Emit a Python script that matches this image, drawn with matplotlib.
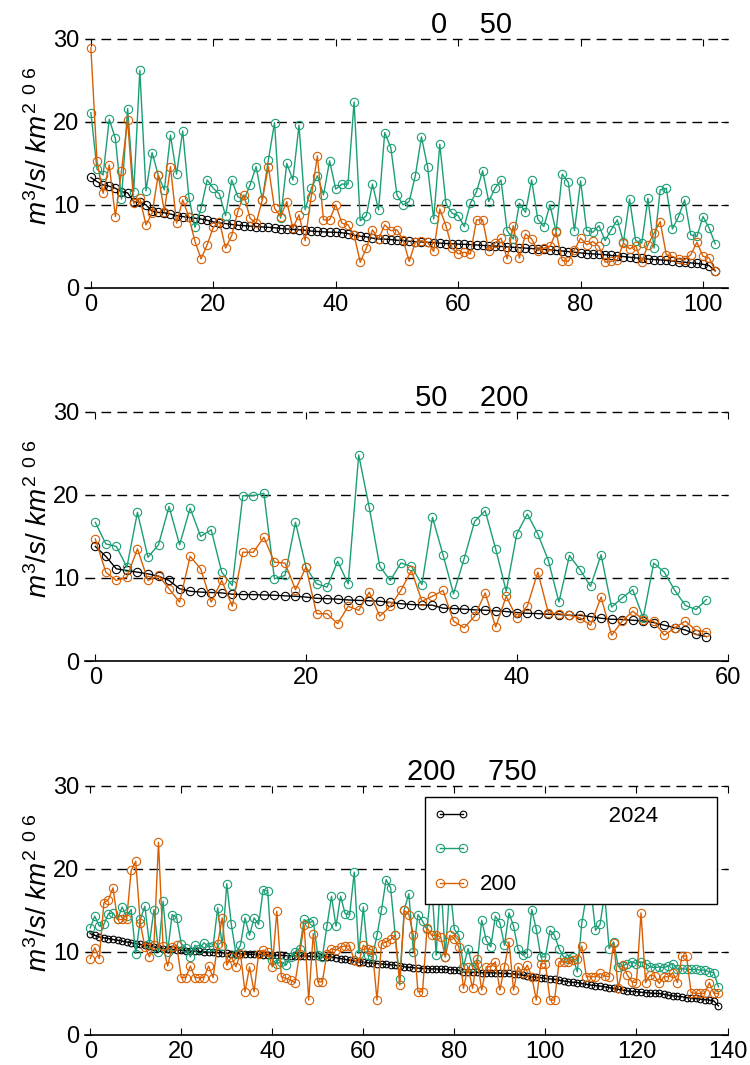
import matplotlib
matplotlib.use('Agg')
import matplotlib.pyplot as plt

plt.rcParams['font.family'] = ['Liberation Sans', 'DejaVu Sans']
plt.rcParams['mathtext.fontset'] = 'custom'
plt.rcParams['mathtext.rm'] = 'Liberation Sans'
plt.rcParams['mathtext.it'] = 'Liberation Sans:italic'

# texts (some glyphs of the original titles/labels are blank)
titles = ['0    50', '50    200', '200    750']
ylabel_txt = r'$m^3/s/\ km^2\ ^{0\ 6}$'
legend_labels = ['                     2024', '', '200']

# panel 1: 0 - 50
black1 = [13.3, 12.8, 12.4, 12.25, 12.0, 11.6, 11.45, 10.4, 10.3, 10.0,
          9.25, 9.1, 9.05, 8.9, 8.7, 8.6, 8.5, 8.4, 8.3, 8.15,
          7.95, 7.85, 7.75, 7.65, 7.55, 7.5, 7.45, 7.4, 7.35, 7.3,
          7.25, 7.15, 7.1, 7.05, 7.0, 6.95, 6.85, 6.8, 6.75, 6.72,
          6.7, 6.65, 6.55, 6.35, 6.22, 6.15, 6.0, 5.9, 5.88, 5.82,
          5.75, 5.7, 5.62, 5.58, 5.54, 5.5, 5.45, 5.4, 5.35, 5.32,
          5.28, 5.25, 5.22, 5.18, 5.12, 5.08, 5.05, 5.0, 4.95, 4.9,
          4.85, 4.8, 4.75, 4.7, 4.65, 4.58, 4.52, 4.45, 4.38, 4.3,
          4.22, 4.15, 4.1, 4.05, 4.0, 3.92, 3.85, 3.78, 3.7, 3.62,
          3.55, 3.48, 3.42, 3.38, 3.32, 3.25, 3.18, 3.1, 3.02, 2.95,
          2.85, 2.7, 2.05]
green1 = [21.1, 14.3, 13.6, 20.3, 18.0, 10.7, 21.6, 11.6, 26.2, 11.7,
          16.3, 13.6, 11.8, 18.4, 13.7, 18.9, 11.0, 7.3, 9.6, 13.0,
          12.0, 11.3, 8.7, 13.0, 11.0, 10.6, 12.4, 14.6, 10.6, 15.4,
          19.9, 8.4, 15.0, 13.0, 19.6, 9.4, 12.0, 13.5, 11.2, 15.3,
          11.9, 12.5, 12.5, 22.4, 8.1, 8.7, 12.5, 9.4, 18.7, 16.9,
          11.2, 10.0, 10.4, 13.5, 18.2, 14.6, 8.3, 17.3, 10.2, 9.0,
          8.7, 7.4, 10.2, 11.6, 14.1, 10.4, 12.0, 13.0, 6.9, 5.9,
          10.2, 9.1, 13.0, 8.3, 7.4, 10.0, 6.8, 13.7, 12.7, 6.9,
          12.9, 6.9, 6.7, 7.5, 5.7, 7.0, 8.2, 5.5, 10.7, 5.7,
          5.4, 10.8, 4.8, 11.8, 12.0, 7.1, 8.6, 10.6, 6.4, 6.2,
          8.6, 7.2, 5.3]
orange1 = [28.9, 15.3, 11.4, 14.8, 8.6, 14.1, 20.2, 10.2, 10.8, 7.6,
           9.0, 13.6, 9.2, 14.6, 7.8, 10.6, 8.6, 5.6, 3.5, 5.2,
           7.3, 8.0, 4.8, 6.3, 9.2, 11.2, 8.4, 7.8, 10.6, 14.6,
           9.6, 8.6, 10.4, 7.2, 8.8, 5.7, 11.0, 15.9, 8.2, 8.2,
           10.0, 7.8, 7.6, 6.4, 3.1, 4.8, 7.0, 5.9, 7.6, 6.9,
           7.0, 5.8, 3.2, 5.5, 5.7, 5.5, 4.4, 9.5, 7.5, 4.8,
           4.1, 4.3, 4.1, 8.2, 8.2, 4.5, 5.4, 6.0, 3.5, 7.5,
           3.6, 6.5, 5.9, 4.5, 4.8, 5.0, 6.7, 3.3, 3.2, 4.6,
           6.0, 5.2, 5.6, 5.0, 3.1, 3.2, 3.4, 5.4, 4.7, 5.1,
           3.1, 5.2, 6.6, 8.0, 4.0, 3.8, 3.5, 3.4, 4.0, 5.5,
           3.8, 3.6, 2.1]

# panel 2: 50 - 200
black2 = [13.8, 12.6, 11.1, 10.9, 10.7, 10.5, 10.2, 9.7, 8.7, 8.4,
          8.3, 8.25, 8.2, 8.05, 8.0, 8.0, 7.95, 7.92, 7.85, 7.8,
          7.7, 7.55, 7.5, 7.45, 7.35, 7.3, 7.25, 7.2, 7.05, 6.9,
          6.8, 6.76, 6.72, 6.36, 6.32, 6.24, 6.16, 6.12, 6.04, 5.96,
          5.84, 5.75, 5.71, 5.63, 5.6, 5.51, 5.5, 5.35, 5.15, 5.03,
          5.0, 4.91, 4.83, 4.63, 4.31, 4.02, 3.74, 3.22, 2.94]
green2 = [16.7, 14.1, 13.8, 11.3, 17.9, 12.5, 14.0, 18.6, 14.0, 18.4,
          15.0, 15.8, 10.7, 9.1, 19.9, 19.9, 20.2, 9.9, 10.3, 16.7,
          11.3, 9.3, 8.9, 12.0, 9.3, 24.8, 18.5, 11.4, 9.7, 11.8,
          11.4, 9.2, 17.3, 12.8, 8.1, 12.3, 16.8, 18.1, 13.5, 8.4,
          15.3, 17.7, 15.3, 12.1, 7.1, 12.7, 11.0, 9.0, 12.8, 6.5,
          7.6, 8.6, 5.2, 11.8, 10.7, 8.5, 6.7, 6.2, 7.4]
orange2 = [14.7, 10.7, 9.7, 10.1, 13.5, 9.7, 10.3, 8.7, 7.1, 12.6,
           11.1, 7.1, 9.7, 6.6, 13.1, 13.1, 14.9, 11.9, 11.8, 8.6,
           11.3, 5.7, 5.7, 4.5, 6.6, 6.1, 8.3, 5.4, 6.6, 8.5,
           10.9, 7.2, 7.8, 8.5, 4.8, 4.0, 5.4, 8.2, 4.1, 7.8,
           5.2, 6.6, 10.7, 5.8, 5.7, 5.5, 5.2, 4.3, 7.7, 3.1,
           4.8, 6.0, 5.0, 4.8, 3.1, 4.0, 4.8, 3.7, 3.5]

# panel 3: 200 - 750
black3 = [12.2, 12.0, 11.8, 11.7, 11.6, 11.5, 11.4, 11.3, 11.2, 11.1,
          11.0, 10.9, 10.8, 10.7, 10.6, 10.5, 10.4, 10.35, 10.3, 10.25,
          10.2, 10.15, 10.1, 10.1, 10.05, 10.0, 10.0, 9.95, 9.9, 9.9,
          9.85, 9.8, 9.8, 9.75, 9.75, 9.7, 9.7, 9.7, 9.65, 9.65,
          9.6, 9.6, 9.6, 9.55, 9.55, 9.5, 9.5, 9.5, 9.5, 9.45,
          9.45, 9.4, 9.4, 9.4, 9.3, 9.2, 9.1, 9.0, 8.9, 8.8,
          8.75, 8.7, 8.65, 8.6, 8.55, 8.5, 8.45, 8.4, 8.3, 8.2,
          8.15, 8.1, 8.05, 8.0, 8.0, 7.95, 7.95, 7.9, 7.9, 7.85,
          7.85, 7.8, 7.6, 7.6, 7.55, 7.55, 7.5, 7.5, 7.5, 7.45,
          7.45, 7.4, 7.4, 7.35, 7.3, 7.2, 7.1, 7.0, 6.95, 6.9,
          6.8, 6.75, 6.7, 6.6, 6.5, 6.4, 6.35, 6.3, 6.2, 6.1,
          6.0, 5.95, 5.9, 5.8, 5.7, 5.6, 5.5, 5.4, 5.3, 5.25,
          5.2, 5.15, 5.1, 5.05, 5.0, 5.0, 4.9, 4.8, 4.7, 4.65,
          4.6, 4.5, 4.45, 4.4, 4.3, 4.25, 4.2, 4.1, 3.5]
green3 = [12.9, 14.3, 13.1, 13.3, 14.6, 14.7, 13.9, 15.4, 14.3, 15.1,
          9.8, 13.9, 15.5, 11.0, 15.1, 10.0, 16.1, 10.0, 14.5, 14.1,
          11.0, 10.5, 9.4, 10.8, 10.4, 11.1, 10.6, 10.7, 15.3, 10.7,
          18.2, 13.3, 9.8, 10.8, 14.1, 12.0, 14.1, 13.3, 17.5, 17.3,
          9.0, 8.6, 8.8, 8.4, 9.4, 10.0, 10.4, 13.9, 13.5, 13.7,
          9.6, 9.4, 13.1, 16.7, 13.1, 16.7, 14.6, 14.5, 19.6, 9.8,
          15.4, 9.6, 9.4, 12.0, 15.1, 18.7, 17.7, 12.0, 6.7, 15.1,
          17.0, 10.0, 14.5, 13.7, 12.7, 18.5, 9.6, 19.0, 9.4, 18.0,
          12.7, 12.0, 8.2, 10.4, 8.2, 8.6, 13.8, 11.4, 10.6, 14.3,
          13.5, 10.8, 14.7, 13.1, 10.3, 9.6, 9.9, 15.1, 12.7, 9.4,
          9.4, 12.6, 12.0, 10.4, 9.4, 9.2, 9.4, 7.6, 13.5, 16.8,
          17.5, 12.6, 13.3, 17.0, 10.4, 11.2, 8.2, 8.3, 8.6, 8.8,
          8.6, 8.8, 8.6, 8.2, 8.1, 8.2, 8.1, 8.3, 8.6, 7.9,
          8.0, 7.9, 7.9, 7.9, 7.8, 7.8, 7.6, 7.5, 5.8]
orange3 = [9.2, 10.5, 9.2, 15.9, 16.3, 17.7, 13.9, 13.9, 13.9, 19.8,
           20.9, 13.5, 10.6, 9.4, 10.8, 23.2, 10.7, 8.3, 10.6, 10.8,
           6.9, 6.9, 8.3, 6.9, 6.9, 6.9, 8.3, 6.9, 11.0, 14.1,
           8.4, 9.4, 8.2, 9.8, 5.2, 8.2, 5.2, 9.8, 10.2, 10.0,
           8.2, 14.9, 7.0, 6.8, 6.6, 6.3, 9.8, 13.2, 4.2, 12.2,
           6.4, 6.4, 9.8, 10.4, 10.2, 10.6, 10.7, 10.7, 9.0, 8.8,
           10.8, 10.4, 10.2, 4.2, 11.0, 11.2, 11.5, 12.0, 6.0, 15.0,
           14.5, 12.0, 5.2, 5.2, 12.9, 12.0, 12.0, 11.8, 9.4, 12.0,
           11.6, 10.6, 5.6, 8.2, 5.6, 9.2, 5.4, 8.2, 8.2, 8.8,
           5.4, 8.2, 11.2, 5.4, 8.2, 7.4, 8.4, 7.0, 4.2, 8.6,
           8.6, 4.2, 4.2, 8.8, 8.8, 8.8, 9.0, 9.2, 10.7, 7.0,
           7.0, 7.0, 7.4, 7.1, 7.0, 11.1, 5.6, 8.4, 7.2, 6.4,
           6.3, 14.7, 6.3, 7.2, 7.1, 6.2, 7.0, 7.0, 7.5, 6.3,
           9.5, 9.5, 5.1, 5.0, 5.0, 5.0, 6.3, 5.0, 5.0]

panels = [(black1, green1, orange1), (black2, green2, orange2), (black3, green3, orange3)]
xlims = [(-1, 104), (-1, 60), (-1.2, 140)]
xticks = [range(0, 101, 20), range(0, 61, 20), range(0, 141, 20)]
yticks = [0, 10, 20, 30]
colors = ['k', '#1b9e77', '#d95f02']
bottoms = [0.7296, 0.3793, 0.0282]


def run():
    fig = plt.figure(figsize=(7.5, 10.65), dpi=100)
    for k in range(3):
        ax = fig.add_axes([0.113, bottoms[k], 0.857, 0.234])
        handles = []
        for j in range(3):
            ys = panels[k][j]
            ms = 6
            if k == 2 and j == 0:
                ms = 4.8
            h, = ax.plot(range(len(ys)), ys, '-o', color=colors[j], lw=1.0,
                         ms=ms, mfc='none', mew=0.8)
            handles.append(h)
        for yv in yticks[1:]:
            ax.axhline(yv, color='k', lw=1.0, ls=(0, (7, 4.5)), zorder=0.5, clip_on=False)
        ax.set_xlim(xlims[k])
        ax.set_ylim(0, 30)
        ax.set_xticks(list(xticks[k]))
        ax.set_yticks(yticks)
        for s in ['top', 'left', 'right']:
            ax.spines[s].set_visible(False)
        ax.spines['bottom'].set_linewidth(1.2)
        ax.tick_params(direction='in', top=True, right=True, length=5, width=0.8,
                       labelsize=17, pad=4)
        ax.text(0.602, 1.025, titles[k], transform=ax.transAxes, ha='center',
                va='baseline', fontsize=21)
        ax.set_ylabel(ylabel_txt, fontsize=20)
        ax.yaxis.set_label_coords(-0.05, 0.57)
        if k == 2:
            leg = ax.legend(handles, legend_labels, loc='upper left',
                            bbox_to_anchor=(0.529, 0.542, 0.454, 0.414), mode='expand',
                            numpoints=2, handlelength=1.6, handletextpad=0.5,
                            labelspacing=0.6, fontsize=16, fancybox=False,
                            framealpha=1, borderaxespad=0)
            leg.get_frame().set_edgecolor('k')
            leg.get_frame().set_linewidth(1.0)
    fig.savefig('out.png', dpi=100)


if __name__ == "__main__":
    run()
